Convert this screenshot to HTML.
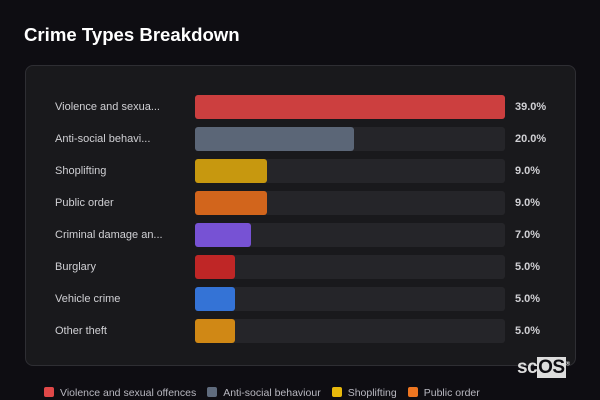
<!DOCTYPE html>
<html><head><meta charset="utf-8"><style>
body{margin:0;width:600px;height:400px;background:#0e0d12;overflow:hidden;font-family:"Liberation Sans",sans-serif;position:relative}
#title{position:absolute;left:24px;top:24px;color:#fff;font-weight:bold;font-size:18.6px}
#card{position:absolute;left:25px;top:65px;width:549px;height:299px;border:1px solid #2e2e33;border-radius:8px;background:#19191c}
.lbl{position:absolute;left:55px;color:#d0d0d4;font-size:11px;line-height:24px}
.trk{position:absolute;left:195px;width:310px;height:24px;background:#252529;border-radius:3px}
.bar{position:absolute;left:195px;height:24px;border-radius:3px}
.val{position:absolute;left:515px;color:#d0d0d4;font-size:11px;font-weight:bold;line-height:24px}
#legend{position:absolute;left:44px;top:387px;font-size:10.5px;color:#b8b8c0;white-space:nowrap}
.li{display:inline-block;margin-right:11px}
.sw{display:inline-block;width:10px;height:10px;border-radius:2px;vertical-align:-1px;margin-right:6px}
#logo{position:absolute;left:517px;top:357px;font-size:19px;font-weight:bold;color:#ddd;letter-spacing:-0.5px}
#logo span{background:#ddd;color:#0e0d12;padding:0 1px}
</style></head><body>
<div id="title">Crime Types Breakdown</div>
<div id="card"></div>
<div id="chart"></div>
<div id="legend"></div>
<div id="logo">sc<span>OS</span><sup style="font-size:6px">®</sup></div>
<script>
const categories=["Violence and sexual offences","Anti-social behaviour","Shoplifting","Public order","Criminal damage and arson","Burglary","Vehicle crime","Other theft"];
const shortLabels=["Violence and sexua...","Anti-social behavi...","Shoplifting","Public order","Criminal damage an...","Burglary","Vehicle crime","Other theft"];
const values=[39.0,20.0,9.0,9.0,7.0,5.0,5.0,5.0];
const colors=["#cc3f3f","#5b6677","#c7980f","#d2651c","#7752d4","#bf2626","#3473d6","#d08815"];
const legendColors=["#e04848","#5f6b7d","#e8b90c","#ee7621"];
const maxV=Math.max(...values), trackW=310, top0=95, step=32;
const x=v=>v/maxV*trackW;
const chart=document.getElementById('chart');
values.forEach((v,i)=>{
  const y=top0+i*step;
  const l=document.createElement('div');l.className='lbl';l.style.top=y+'px';l.textContent=shortLabels[i];
  
  
  const t=document.createElement('div');t.className='trk';t.style.top=y+'px';
  
  
  const b=document.createElement('div');b.className='bar';b.style.top=y+'px';b.style.width=x(v)+'px';b.style.background=colors[i];
  
  
  const vl=document.createElement('div');vl.className='val';vl.style.top=y+'px';vl.textContent=v.toFixed(1)+'%';
  
  
  chart.append(l,t,b,vl);
});
const lg=document.getElementById('legend');
legendColors.forEach((c,i)=>{
  const it=document.createElement('span');it.className='li';
  
  
  it.innerHTML='<span class="sw" style="background:'+c+'"></span>'+categories[i];
  lg.appendChild(it);
});
</script>
</body></html>
